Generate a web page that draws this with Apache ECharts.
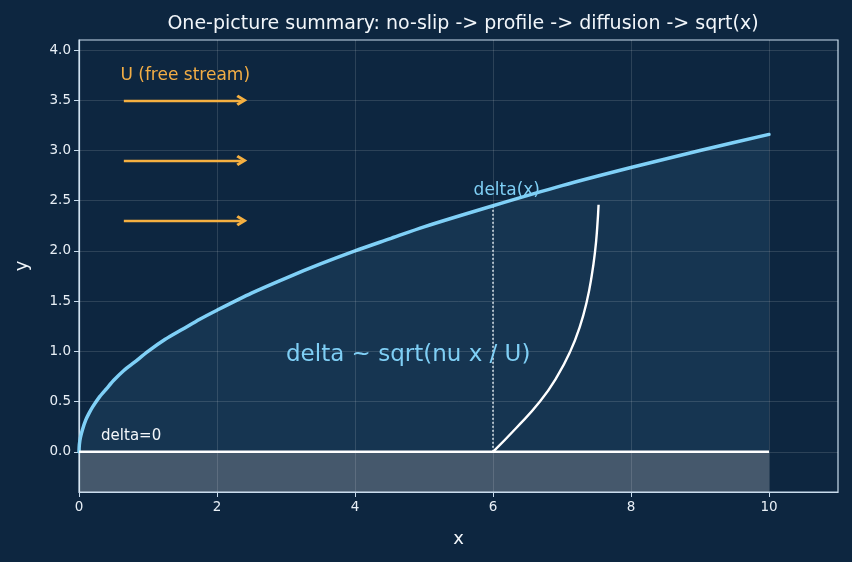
<!DOCTYPE html>
<html>
<head>
<meta charset="utf-8">
<script src="https://cdn.jsdelivr.net/npm/echarts@6/dist/echarts.min.js"></script>
<style>
  html, body { margin: 0; padding: 0; background: #0d2640; }
  #main { width: 852px; height: 562px; }
</style>
</head>
<body>
<div id="main"></div>
<script>
// boundary layer edge delta(x)
var deltaX = [0, 0.005, 0.02, 0.05, 0.1, 0.15, 0.2, 0.3, 0.4, 0.5, 0.65, 0.8, 1, 1.25, 1.5, 1.75, 2, 2.5, 3, 3.5, 4, 4.5, 5, 6, 7, 8, 9, 10];
var deltaY = [0, 0.07, 0.14, 0.22, 0.32, 0.39, 0.45, 0.55, 0.63, 0.71, 0.81, 0.89, 1.0, 1.12, 1.22, 1.32, 1.41, 1.58, 1.73, 1.87, 2.0, 2.12, 2.24, 2.45, 2.65, 2.83, 3.0, 3.16];

// velocity profile drawn at x = 6
var profileX = [6.0, 6.34, 6.68, 6.93, 7.12, 7.26, 7.36, 7.43, 7.48, 7.51, 7.53];
var profileY = [0, 0.24, 0.5, 0.75, 1.0, 1.25, 1.5, 1.75, 2.0, 2.23, 2.46];

// free stream arrows
var arrowY = [3.5, 2.9, 2.3];
var arrowStart = 0.65;
var arrowEnd = 2.36;

var stationX = 6;
var stationDelta = 2.45;
var wallX = [0, 10];
var wallBottom = -0.4;

var xTicks = [0, 2, 4, 6, 8, 10];
var yTicks = [0, 0.5, 1, 1.5, 2, 2.5, 3, 3.5, 4];

var notes = [
  { x: 0.6, y: 3.75, text: 'U (free stream)', color: '#f2ad45', size: 17, align: 'left' },
  { x: 6.2, y: 2.6, text: 'delta(x)', color: '#7fcff5', size: 17, align: 'center' },
  { x: 3.0, y: 0.96, text: 'delta ~ sqrt(nu x / U)', color: '#7fcff5', size: 23, align: 'left' },
  { x: 0.32, y: 0.16, text: 'delta=0', color: '#f4f7fa', size: 15, align: 'left' }
];

var axisColor = '#c9dced';
var font = 'DejaVu Sans';

var myChart = echarts.init(document.getElementById('main'));

var edge = deltaX.map(function (x, i) { return [x, deltaY[i]]; });
var profile = profileX.map(function (x, i) { return [x, profileY[i]]; });
var chevron = 'path://M5,0 L10,8 L8,9.6 L5,4.6 L2,9.6 L0,8 Z';

myChart.setOption({
  backgroundColor: '#0d2640',
  animation: false,
  textStyle: { fontFamily: font },
  title: {
    text: 'One-picture summary: no-slip -> profile -> diffusion -> sqrt(x)',
    left: 458, top: 10, textAlign: 'center',
    textStyle: { color: '#f2f6fa', fontSize: 19, fontWeight: 'normal', fontFamily: font }
  },
  grid: {
    left: 79, right: 14, top: 40, bottom: 70,
    show: true, borderColor: axisColor, borderWidth: 1.2, backgroundColor: 'transparent'
  },
  xAxis: {
    type: 'value', min: 0, max: 11,
    name: 'x', nameLocation: 'middle', nameGap: 38,
    nameTextStyle: { color: '#f2f6fa', fontSize: 18, fontFamily: font },
    axisLine: { show: true, onZero: false, lineStyle: { color: axisColor, width: 1.2 } },
    axisTick: { show: true, inside: false, length: 5, customValues: xTicks, lineStyle: { color: axisColor } },
    axisLabel: { customValues: xTicks, color: '#e8eff6', fontSize: 13.5, margin: 8, fontFamily: font },
    splitLine: { show: false }
  },
  yAxis: {
    type: 'value', min: -0.4, max: 4.1,
    name: 'y', nameLocation: 'middle', nameGap: 48,
    nameTextStyle: { color: '#f2f6fa', fontSize: 18, fontFamily: font },
    axisLine: { show: true, onZero: false, lineStyle: { color: axisColor, width: 1.2 } },
    axisTick: { show: true, inside: false, length: 5, customValues: yTicks, lineStyle: { color: axisColor } },
    axisLabel: {
      customValues: yTicks, color: '#e8eff6', fontSize: 13.5, margin: 8, fontFamily: font,
      formatter: function (v) { return v.toFixed(1); }
    },
    splitLine: { show: false }
  },
  series: [
    {
      // grid lines + wall
      type: 'line', data: [], z: 1, silent: true,
      markLine: {
        silent: true, symbol: 'none', label: { show: false },
        lineStyle: { color: 'rgba(255,255,255,0.13)', width: 1, type: 'solid' },
        data: xTicks.map(function (v) { return { xAxis: v }; })
          .concat(yTicks.map(function (v) { return { yAxis: v }; }))
      },
      markArea: {
        silent: true,
        itemStyle: { color: 'rgba(255,255,255,0.23)' },
        data: [[{ coord: [wallX[0], wallBottom] }, { coord: [wallX[1], 0] }]]
      }
    },
    {
      name: 'delta', type: 'line', data: edge, showSymbol: false, smooth: 0.25, z: 4,
      lineStyle: { color: '#7fd0f7', width: 3.5, join: 'round', cap: 'round' },
      areaStyle: { color: 'rgba(125,211,252,0.13)' }
    },
    {
      name: 'wall', type: 'line', data: wallX.map(function (x) { return [x, 0]; }),
      showSymbol: false, z: 5, lineStyle: { color: '#ffffff', width: 2.5 }
    },
    {
      name: 'station', type: 'line', data: [[stationX, 0], [stationX, stationDelta]],
      showSymbol: false, z: 3, lineStyle: { color: '#ffffff', width: 1.3, type: [2, 2] }
    },
    {
      name: 'profile', type: 'line', data: profile, showSymbol: false, smooth: 0.5, z: 5,
      lineStyle: { color: '#ffffff', width: 2.4 }
    },
    {
      name: 'arrows', type: 'line', data: [], z: 5,
      markLine: {
        silent: true, symbol: ['none', chevron], symbolSize: [11, 11],
        label: { show: false },
        lineStyle: { color: '#f5b041', width: 2.4, type: 'solid' },
        itemStyle: { color: '#f5b041' },
        data: arrowY.map(function (y) {
          return [{ coord: [arrowStart, y] }, { coord: [arrowEnd, y] }];
        })
      }
    },
    {
      name: 'notes', type: 'scatter', symbolSize: 0, z: 6, silent: true,
      itemStyle: { opacity: 1 },
      data: notes.map(function (n) {
        return {
          value: [n.x, n.y],
          label: {
            show: true, position: [0, 0], formatter: n.text, align: n.align,
            verticalAlign: 'middle', color: n.color, fontSize: n.size, fontFamily: font,
            textBorderWidth: 0
          }
        };
      })
    }
  ]
});
</script>
</body>
</html>
